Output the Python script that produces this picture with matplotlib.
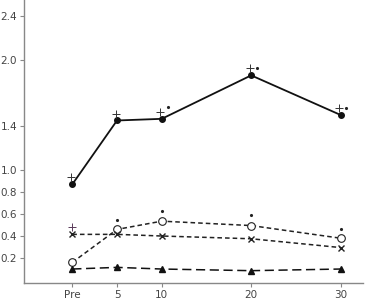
import numpy as np
import matplotlib.pyplot as plt

times = [0, 5, 10, 20, 30]
time_labels = ['Pre', '5', '10', '20', '30']

solid_vals = [0.87, 1.45, 1.465, 1.86, 1.50]
solid_plus = [0.94, 1.51, 1.53, 1.93, 1.565]
solid_star_t = [10, 20, 30]
solid_star = [1.575, 1.925, 1.565]

circle_vals = [0.16, 0.46, 0.535, 0.495, 0.38]
circle_star_t = [5, 10, 20, 30]
circle_star = [0.55, 0.63, 0.59, 0.46]

cross_vals = [0.415, 0.415, 0.40, 0.375, 0.295]
cross_plus_t = [0]
cross_plus = [0.48]

tri_vals = [0.10, 0.115, 0.10, 0.085, 0.10]

yticks = [0.2, 0.4, 0.6, 0.8, 1.0, 1.4, 2.0, 2.4]

fig = plt.figure(figsize=(3.69, 3.02), dpi=100)
ax = fig.add_axes([24 / 369, 19 / 302, 339 / 369, 283 / 302])

ax.plot(times, solid_vals, color='#111111', lw=1.3, marker='o', ms=4)
ax.plot(times, circle_vals, color='#222222', lw=1.1, ls=(0, (3, 2)),
        marker='o', ms=5.5, mfc='white', mec='#222222', mew=0.8)
ax.plot(times, cross_vals, color='#222222', lw=1.1, ls=(0, (3, 2)),
        marker='x', ms=4.5, mew=1.0)
ax.plot(times, tri_vals, color='#111111', lw=1.1, ls=(0, (6, 3)),
        marker='^', ms=4.5)

# significance marks
ax.plot(np.array(times) - 0.15, solid_plus, ls='none', marker='+',
        ms=6, mew=0.7, color='#333333')
ax.plot(np.array(solid_star_t) + 0.65, solid_star, ls='none', marker='.',
        ms=2.5, color='#222222')
ax.plot(circle_star_t, circle_star, ls='none', marker='.', ms=2.5, color='#222222')
ax.plot(cross_plus_t, cross_plus, ls='none', marker='+', ms=6, mew=0.7,
        color='#5a3a5a')

ax.set_xlim(-5.4, 32.5)
ax.set_ylim(-0.027, 2.545)
ax.set_xticks(times)
ax.set_xticklabels(time_labels)
ax.set_yticks(yticks)
ax.set_yticklabels([f'{v:.1f}' for v in yticks])

for side in ['top', 'right']:
    ax.spines[side].set_visible(False)
for side in ['left', 'bottom']:
    ax.spines[side].set_color('#888888')
    ax.spines[side].set_linewidth(1.0)
ax.tick_params(axis='both', labelsize=7.5, colors='#888888', labelcolor='#444444',
               length=3, width=0.8, pad=2)

fig.savefig('out.png', dpi=100)
